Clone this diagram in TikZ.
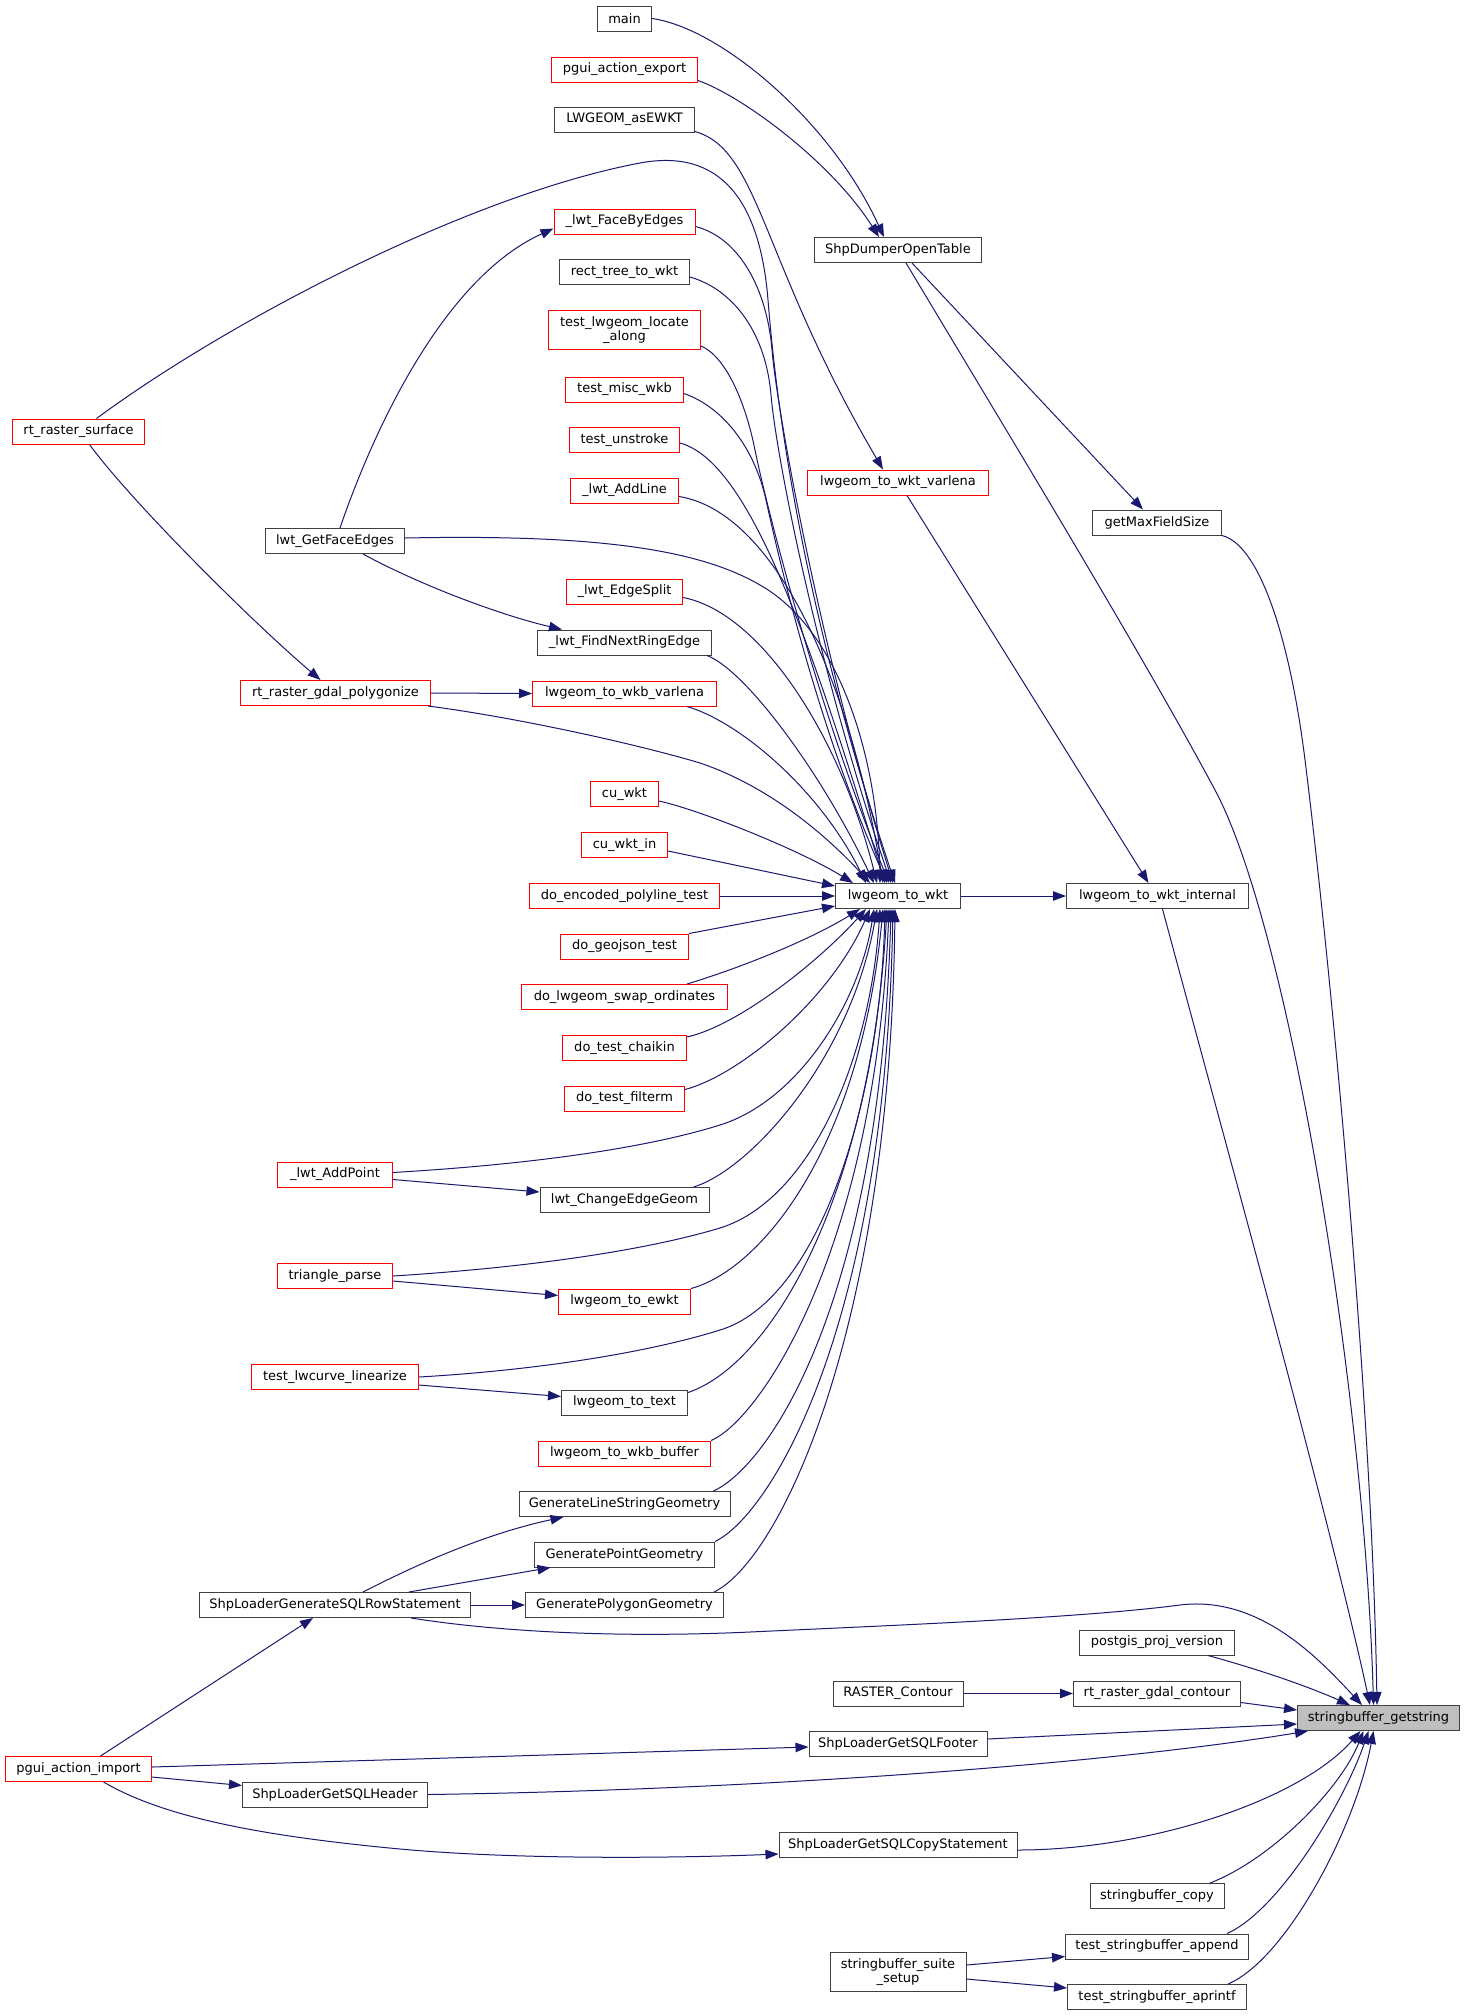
\documentclass[tikz,border=0pt]{standalone}
\usepackage{fontspec}
\setmainfont{DejaVu Sans}
\usetikzlibrary{arrows.meta}
\definecolor{edgec}{HTML}{191970}
\definecolor{boxgray}{HTML}{404040}
\definecolor{boxred}{HTML}{FF0000}
\definecolor{hilite}{HTML}{BFBFBF}
\newcommand\fsz{\fontsize{13bp}{14bp}\selectfont}
\tikzset{
 bx/.style={draw=boxgray, line width=1bp, fill=white, inner xsep=2bp, inner ysep=0bp, minimum height=25bp, font=\fsz, text=black},
 rbx/.style={bx, draw=boxred},
 two/.style={align=center, minimum height=39bp},
 cl/.style={draw=edgec, line width=1bp, -{Triangle[length=13bp,width=9.5bp]}},
}
\begin{document}
\begin{tikzpicture}[x=1bp,y=-1bp]
\fill[white] (0,0) rectangle (1465,2016);
\useasboundingbox (0,0) rectangle (1465,2016);
% column A
\node[rbx, minimum width=132bp] (rs) at (78.5,431.5) {rt\_raster\_surface};
\node[rbx, minimum width=146bp] (pi) at (78.5,1769) {pgui\_action\_import};
% column B
\node[bx, minimum width=139bp] (ge) at (335,541) {lwt\_GetFaceEdges};
\node[rbx, minimum width=190bp] (rp) at (335.5,693) {rt\_raster\_gdal\_polygonize};
\node[rbx, minimum width=115bp] (ap) at (335,1174.5) {\_lwt\_AddPoint};
\node[rbx, minimum width=115bp] (tp) at (335,1276) {triangle\_parse};
\node[rbx, minimum width=167bp] (lc) at (335,1377) {test\_lwcurve\_linearize};
\node[bx, minimum width=271bp] (sr) at (335,1605) {ShpLoaderGenerateSQLRowStatement};
\node[bx, minimum width=185bp] (sh) at (335,1794.5) {ShpLoaderGetSQLHeader};
% column C
\node[bx, minimum width=54bp] (mn) at (624.5,18.5) {main};
\node[rbx, minimum width=146bp] (pe) at (624.5,69.5) {pgui\_action\_export};
\node[bx, minimum width=140bp] (ae) at (624.5,119.5) {LWGEOM\_asEWKT};
\node[rbx, minimum width=141bp] (fe) at (624.5,221.5) {\_lwt\_FaceByEdges};
\node[bx, minimum width=130bp] (rt) at (624.5,272) {rect\_tree\_to\_wkt};
\node[rbx, two, minimum width=152bp] (la) at (624.5,330) {test\_lwgeom\_locate\\\_along};
\node[rbx, minimum width=118bp] (mw) at (624.5,389.5) {test\_misc\_wkb};
\node[rbx, minimum width=110bp] (us) at (624.5,440) {test\_unstroke};
\node[rbx, minimum width=108bp] (al) at (624.5,490.5) {\_lwt\_AddLine};
\node[rbx, minimum width=116bp] (es) at (624.5,591.5) {\_lwt\_EdgeSplit};
\node[bx, minimum width=174bp] (fn) at (624.5,642.5) {\_lwt\_FindNextRingEdge};
\node[rbx, minimum width=184bp] (wv) at (624.5,693.5) {lwgeom\_to\_wkb\_varlena};
\node[rbx, minimum width=68bp] (cw) at (624.5,794) {cu\_wkt};
\node[rbx, minimum width=86bp] (ci) at (624.5,845) {cu\_wkt\_in};
\node[rbx, minimum width=190bp] (de) at (624.5,896) {do\_encoded\_polyline\_test};
\node[rbx, minimum width=128bp] (dg) at (624.5,946.5) {do\_geojson\_test};
\node[rbx, minimum width=206bp] (ds) at (624.5,997) {do\_lwgeom\_swap\_ordinates};
\node[rbx, minimum width=124bp] (dc) at (624.5,1048) {do\_test\_chaikin};
\node[rbx, minimum width=120bp] (df) at (624.5,1098.5) {do\_test\_filterm};
\node[bx, minimum width=169bp] (cg) at (624.5,1200) {lwt\_ChangeEdgeGeom};
\node[rbx, minimum width=132bp] (ew) at (624.5,1301.5) {lwgeom\_to\_ewkt};
\node[bx, minimum width=126bp] (tt) at (624.5,1402.5) {lwgeom\_to\_text};
\node[rbx, minimum width=172bp] (wb) at (624.5,1453.5) {lwgeom\_to\_wkb\_buffer};
\node[bx, minimum width=211bp] (gl) at (624.5,1504) {GenerateLineStringGeometry};
\node[bx, minimum width=180bp] (gp) at (624.5,1554.5) {GeneratePointGeometry};
\node[bx, minimum width=198bp] (gy) at (624.5,1605) {GeneratePolygonGeometry};
% column D
\node[bx, minimum width=167bp] (sd) at (898,250) {ShpDumperOpenTable};
\node[rbx, minimum width=181bp] (wl) at (898,482.5) {lwgeom\_to\_wkt\_varlena};
\node[bx, minimum width=125bp] (w) at (898,896) {lwgeom\_to\_wkt};
\node[bx, minimum width=130bp] (rc) at (898,1693.5) {RASTER\_Contour};
\node[bx, minimum width=178bp] (sf) at (898,1744) {ShpLoaderGetSQLFooter};
\node[bx, minimum width=238bp] (sc) at (898,1845) {ShpLoaderGetSQLCopyStatement};
\node[bx, two, minimum width=136bp] (ss) at (898,1972) {stringbuffer\_suite\\\_setup};
% column E
\node[bx, minimum width=129bp] (gm) at (1157,522.5) {getMaxFieldSize};
\node[bx, minimum width=182bp] (wi) at (1157.5,896) {lwgeom\_to\_wkt\_internal};
\node[bx, minimum width=155bp] (pp) at (1157,1642.5) {postgis\_proj\_version};
\node[bx, minimum width=167bp] (rg) at (1157,1693.5) {rt\_raster\_gdal\_contour};
\node[bx, minimum width=134bp] (sbc) at (1157,1896) {stringbuffer\_copy};
\node[bx, minimum width=183bp] (ta) at (1157,1946.5) {test\_stringbuffer\_append};
\node[bx, minimum width=179bp] (tf) at (1157,1997) {test\_stringbuffer\_aprintf};
% column F
\node[bx, fill=hilite, minimum width=162bp] (sg) at (1378.5,1718) {stringbuffer\_getstring};

% callers of lwgeom_to_wkt from above
\draw[cl] ([xshift=18bp]rs.north) .. controls (230,320) and (470,195) .. (640,163) .. controls (720,148) and (760,200) .. (768,300) .. controls (776,400) and (800,600) .. ([xshift=60bp]w.north west);
\draw[cl] ([yshift=-5bp]fe.east) .. controls (740,238) and (767,290) .. (772,350) .. controls (777,410) and (820,650) .. ([xshift=58bp]w.north west);
\draw[cl] ([yshift=-5bp]rt.east) .. controls (735,290) and (766,335) .. (771,395) .. controls (776,455) and (818,670) .. ([xshift=56bp]w.north west);
\draw[cl] ([yshift=-16bp]la.east) .. controls (725,356) and (745,400) .. (755,450) .. controls (765,500) and (815,700) .. ([xshift=54bp]w.north west);
\draw[cl] ([yshift=-4bp]mw.east) .. controls (725,408) and (755,450) .. (766,500) .. controls (777,550) and (815,720) .. ([xshift=52bp]w.north west);
\draw[cl] ([yshift=-3bp]us.east) .. controls (750,462) and (810,640) .. ([xshift=50bp]w.north west);
\draw[cl] ([yshift=-6bp]al.east) .. controls (775,512) and (850,680) .. ([xshift=48bp]w.north west);
\draw[cl] ([yshift=3bp]ge.east) .. controls (600,534) and (700,550) .. (760,585) .. controls (840,630) and (878,760) .. ([xshift=45bp]w.north west);
\draw[cl] ([yshift=-6bp]es.east) .. controls (760,612) and (840,735) .. ([xshift=42bp]w.north west);
\draw[cl] ([xshift=-5bp]fn.south east) .. controls (745,670) and (820,770) .. ([xshift=39bp]w.north west);
\draw[cl] ([xshift=-3bp]rp.south east) .. controls (520,718) and (640,745) .. (700,763) .. controls (780,790) and (840,850) .. ([xshift=35bp]w.north west);
\draw[cl] ([xshift=-30bp]wv.south east) .. controls (740,722) and (820,790) .. ([xshift=31bp]w.north west);
\draw[cl] ([yshift=-7bp]cw.east) .. controls (700,810) and (800,850) .. ([xshift=18bp]w.north west);
\draw[cl] ([yshift=-6bp]ci.east) -- ([yshift=10bp]w.west);
\draw[cl] (de.east) -- (w.west);
\draw[cl] (dg.north east) -- ([yshift=-10bp]w.west);
% callers of lwgeom_to_wkt from below
\draw[cl] ([xshift=-41bp]ds.north east) .. controls (740,968) and (810,940) .. ([xshift=25bp]w.south west);
\draw[cl] ([yshift=-2bp]dc.north east) .. controls (740,1025) and (820,960) .. ([xshift=31bp]w.south west);
\draw[cl] ([yshift=-4bp]df.north east) .. controls (740,1075) and (830,1000) .. ([xshift=35bp]w.south west);
\draw[cl] ([yshift=2bp]ap.east) .. controls (520,1165) and (640,1150) .. (720,1125) .. controls (800,1100) and (860,1000) .. ([xshift=39bp]w.south west);
\draw[cl] ([xshift=-16bp]cg.north east) .. controls (750,1170) and (850,1060) .. ([xshift=42bp]w.south west);
\draw[cl] (tp.east) .. controls (520,1268) and (640,1252) .. (720,1228) .. controls (810,1200) and (870,1060) .. ([xshift=45bp]w.south west);
\draw[cl] (ew.north east) .. controls (760,1270) and (860,1150) .. ([xshift=48bp]w.south west);
\draw[cl] (lc.east) .. controls (540,1370) and (650,1352) .. (720,1330) .. controls (820,1300) and (880,1100) .. ([xshift=50bp]w.south west);
\draw[cl] ([yshift=-3bp]tt.north east) .. controls (770,1365) and (870,1200) .. ([xshift=52bp]w.south west);
\draw[cl] (wb.north east) .. controls (760,1420) and (875,1250) .. ([xshift=54bp]w.south west);
\draw[cl] ([xshift=-17bp]gl.north east) .. controls (770,1465) and (880,1300) .. ([xshift=56bp]w.south west);
\draw[cl] (gp.north east) .. controls (770,1515) and (885,1330) .. ([xshift=58bp]w.south west);
\draw[cl] ([xshift=-10bp]gy.north east) .. controls (780,1560) and (890,1330) .. ([xshift=60bp]w.south west);

% upper right part
\draw[cl] (mn.east) .. controls (720,28) and (830,120) .. ([xshift=-14bp]sd.north);
\draw[cl] ([yshift=-11bp]pe.east) .. controls (740,95) and (830,160) .. ([xshift=-19bp]sd.north);
\draw[cl] ([yshift=-12bp]ae.east) .. controls (760,150) and (760,260) .. ([xshift=-15bp]wl.north);
\draw[cl] ([xshift=14bp]sd.south) -- ([xshift=-14bp]gm.north);
\draw[cl] ([xshift=8bp]sd.south) .. controls (1000,420) and (1140,650) .. (1215,790) .. controls (1290,930) and (1365,1400) .. ([xshift=-5bp]sg.north);
\draw[cl] (gm.south east) .. controls (1260,545) and (1290,640) .. (1305,760) .. controls (1330,960) and (1372,1400) .. ([xshift=-1.5bp]sg.north);
\draw[cl] ([xshift=9bp]wl.south) -- ([xshift=-9bp]wi.north);
\draw[cl] (w.east) -- (wi.west);
\draw[cl] ([xshift=5bp]wi.south) .. controls (1230,1160) and (1330,1520) .. ([xshift=-8.5bp]sg.north);

% left part
\draw[cl] ([xshift=5bp]ge.north) .. controls (370,440) and (440,280) .. ([yshift=-7bp]fe.west);
\draw[cl] ([xshift=28bp]ge.south) .. controls (420,585) and (500,615) .. ([xshift=25bp]fn.north west);
\draw[cl] ([xshift=11bp]rs.south) .. controls (130,500) and (250,620) .. ([xshift=-15bp]rp.north);
\draw[cl] (rp.east) -- (wv.west);
\draw[cl] ([yshift=-5bp]ap.east) -- ([yshift=8bp]cg.west);
\draw[cl] ([yshift=-5bp]tp.east) -- ([yshift=6bp]ew.west);
\draw[cl] ([yshift=-8bp]lc.east) -- ([yshift=6bp]tt.west);
\draw[cl] ([xshift=28bp]sr.north) .. controls (410,1568) and (480,1535) .. ([xshift=-61bp]gl.south);
\draw[cl] ([xshift=74bp]sr.north) -- ([xshift=-74bp]gp.south);
\draw[cl] (sr.east) -- (gy.west);

% lower part
\draw[cl] ([xshift=76bp]sr.south) .. controls (500,1632) and (620,1638) .. (750,1632) .. controls (900,1625) and (1080,1618) .. (1180,1605) .. controls (1260,1595) and (1320,1660) .. ([xshift=-16.5bp]sg.north);
\draw[cl] (rc.east) -- (rg.west);
\draw[cl] ([xshift=51bp]pp.south) .. controls (1250,1667) and (1300,1683) .. ([xshift=-28.5bp]sg.north);
\draw[cl] ([yshift=-9bp]rg.east) -- ([yshift=8bp]sg.west);
\draw[cl] ([yshift=5bp]sf.east) -- ([yshift=-6bp]sg.west);
\draw[cl] ([yshift=2bp]pi.east) -- ([yshift=-3bp]sf.west);
\draw[cl] (sh.east) .. controls (750,1790) and (1100,1765) .. ([xshift=11bp]sg.south west);
\draw[cl] ([xshift=22bp]pi.north) -- ([xshift=-22bp]sr.south);
\draw[cl] ([yshift=-8bp]pi.east) -- ([yshift=9bp]sh.west);
\draw[cl] ([xshift=25bp]pi.south) .. controls (160,1815) and (250,1835) .. (400,1849) .. controls (520,1860) and (680,1858) .. ([yshift=-9bp]sc.west);
\draw[cl] ([yshift=-5bp]sc.east) .. controls (1150,1850) and (1300,1800) .. ([xshift=-18bp]sg.south);
\draw[cl] ([xshift=53bp]sbc.north) .. controls (1270,1860) and (1340,1790) .. ([xshift=-15bp]sg.south);
\draw[cl] ([xshift=70bp]ta.north) .. controls (1280,1910) and (1345,1800) .. ([xshift=-10bp]sg.south);
\draw[cl] ([xshift=71bp]tf.north) .. controls (1285,1960) and (1355,1830) .. ([xshift=-5bp]sg.south);
\draw[cl] ([yshift=7bp]ss.east) -- ([yshift=-10bp]ta.west);
\draw[cl] ([yshift=-7bp]ss.east) -- ([yshift=9bp]tf.west);
\end{tikzpicture}
\end{document}
